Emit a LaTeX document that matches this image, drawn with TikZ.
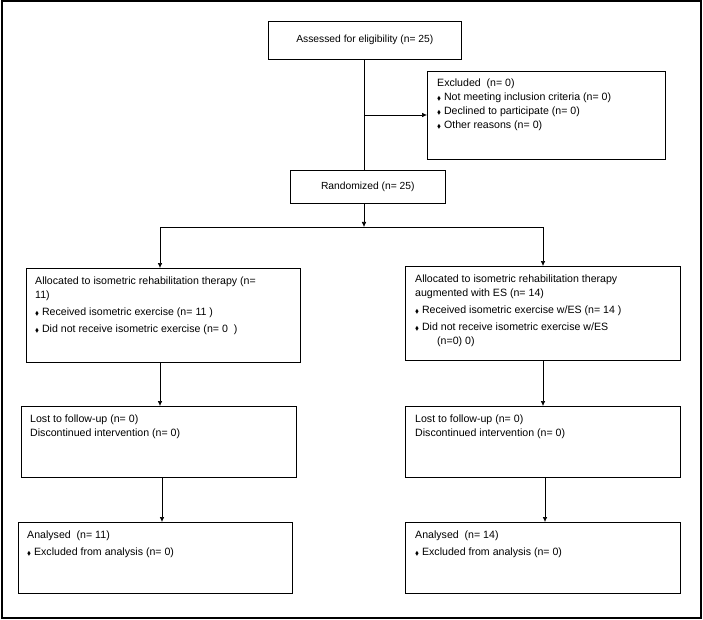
\documentclass[tikz,border=0pt]{standalone}
\usepackage{fontspec}
\usepackage{amssymb}
\setmainfont{Liberation Sans}
\usetikzlibrary{arrows.meta,positioning}
\newcommand{\itm}{\raisebox{0.5pt}{\scalebox{0.55}{$\blacklozenge$}}\hspace{3pt}}
\tikzset{
  box/.style={draw, line width=0.6pt, anchor=north west, inner sep=0pt},
  txt/.style={anchor=north west, align=left, inner sep=0pt, font=\fontsize{10.6}{14}\selectfont},
  arr/.style={line width=0.6pt, -{Latex[length=5pt,width=4.5pt]}},
  ln/.style={line width=0.6pt}
}
\begin{document}
\begin{tikzpicture}[x=1pt,y=-1pt]
\useasboundingbox (0,0) rectangle (703,620);
\draw[line width=2pt] (2,1.5) rectangle (701,618);
% top part
\node[box, minimum width=193pt, minimum height=38pt] (assess) at (268,21) {};
\node[font=\fontsize{10.3}{14}\selectfont] (assesst) at (assess.center) {Assessed for eligibility (n= 25)};
\node[box, minimum width=238pt, minimum height=88pt] (excl) at (427,71) {};
\node[txt] (exclt) at (437,79) {Excluded\ \ (n= 0)\\
\itm Not meeting inclusion criteria (n= 0)\\
\itm Declined to participate (n= 0)\\
\itm Other reasons (n= 0)};
\node[box, minimum width=155pt, minimum height=33pt] (rand) at (290,170) {};
\node[font=\fontsize{10.3}{14}\selectfont] (randt) at (rand.center) {Randomized (n= 25)};
\coordinate (exjoin) at (364,115);
\coordinate (split) at (364,227);
\coordinate (splitl) at (160,227);
\coordinate (splitr) at (543,227);
% allocation
\node[box, minimum width=274pt, minimum height=94pt] (allocl) at (26,268) {};
\node[txt] (alloclt) at (35,277) {Allocated to isometric rehabilitation therapy (n=\\ 11)\\[3pt]
\itm Received isometric exercise (n= 11 )\\[3pt]
\itm Did not receive isometric exercise (n= 0\ \ )};
\node[box, minimum width=275pt, minimum height=94pt] (allocr) at (405,266) {};
\node[txt] (allocrt) at (415,275) {Allocated to isometric rehabilitation therapy\\ augmented with ES (n= 14)\\[3pt]
\itm Received isometric exercise w/ES (n= 14 )\\[3pt]
\itm Did not receive isometric exercise w/ES\\ \hspace*{22pt}(n=0) 0)};
% follow-up
\node[box, minimum width=275pt, minimum height=71pt] (lostl) at (21,406) {};
\node[txt] (lostlt) at (30,415) {Lost to follow-up (n= 0)\\ Discontinued intervention (n= 0)};
\node[box, minimum width=275pt, minimum height=71pt] (lostr) at (405,406) {};
\node[txt] (lostrt) at (415,415) {Lost to follow-up (n= 0)\\ Discontinued intervention (n= 0)};
% analysis
\node[box, minimum width=274pt, minimum height=71pt] (anl) at (18,522) {};
\node[txt] (anlt) at (27,531) {Analysed\ \ (n= 11)\\[3pt] \itm Excluded from analysis (n= 0)};
\node[box, minimum width=275pt, minimum height=71pt] (anr) at (405,522) {};
\node[txt] (anrt) at (415,531) {Analysed\ \ (n= 14)\\[3pt] \itm Excluded from analysis (n= 0)};
% connectors
\draw[ln] (assess.south -| exjoin) -- (rand.north -| exjoin);
\draw[arr] (exjoin) -- (exjoin -| excl.west);
\draw[arr] (rand.south -| split) -- (split);
\draw[ln] (splitl) -- (splitr);
\draw[arr] (splitl) -- (splitl |- allocl.north);
\draw[arr] (splitr) -- (splitr |- allocr.north);
\draw[arr] (allocl.south -| splitl) -- (splitl |- lostl.north);
\draw[arr] (allocr.south -| splitr) -- (splitr |- lostr.north);
\draw[arr] (lostl.south -| 162,0) -- (anl.north -| 162,0);
\draw[arr] (lostr.south -| 545,0) -- (anr.north -| 545,0);
\end{tikzpicture}
\end{document}
